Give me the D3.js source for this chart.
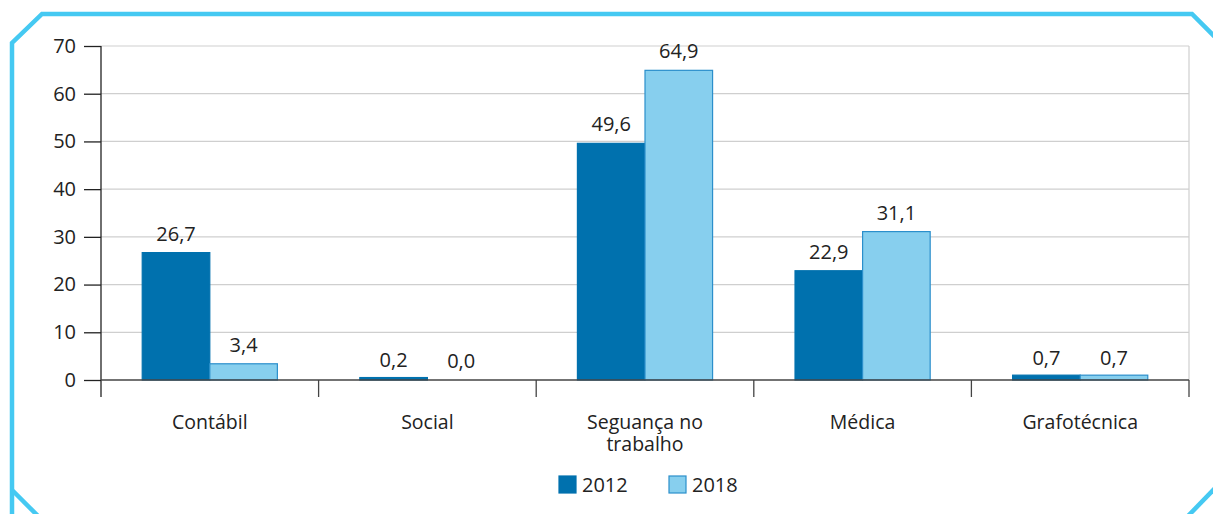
<!DOCTYPE html>
<html>
<head>
<meta charset="utf-8">
<script src="https://cdn.jsdelivr.net/npm/d3@7"></script>
<style>
  body { margin: 0; background: #fff; }
  svg { display: block; font-family: "Open Sans", sans-serif; }
</style>
</head>
<body>
<svg id="chart" width="1213" height="514"></svg>
<script>
// data
const categories = [["Contábil"], ["Social"], ["Seguança no", "trabalho"], ["Médica"], ["Grafotécnica"]];
const series = ["2012", "2018"];
const values2012 = [26.7, 0.2, 49.6, 22.9, 0.7];
const values2018 = [3.4, 0.0, 64.9, 31.1, 0.7];
const yTicks = [0, 10, 20, 30, 40, 50, 60, 70];

const colors = { "2012": "#0071ae", "2018": "#87cfee" };
const strokes = { "2012": "#0071ae", "2018": "#2b8fcb" };

const svg = d3.select('#chart');

// frame with cut corners
const frame = d3.path();
frame.moveTo(12, 514);
frame.lineTo(12, 43);
frame.lineTo(42, 14);
frame.lineTo(1192, 14);
frame.lineTo(1225, 47);
svg.append('path').attr('d', frame.toString())
  .attr('fill', 'none').attr('stroke', '#45c9f2').attr('stroke-width', 4.5);
svg.append('path').attr('d', 'M12,490 L38,516')
  .attr('fill', 'none').attr('stroke', '#45c9f2').attr('stroke-width', 4.5);
svg.append('path').attr('d', 'M1225,478 L1188,516')
  .attr('fill', 'none').attr('stroke', '#45c9f2').attr('stroke-width', 4.5);

const m = { left: 101, right: 1189, top: 46, bottom: 380 };

const x = d3.scaleBand()
  .domain(d3.range(categories.length))
  .range([m.left, m.right]);

const xs = d3.scaleBand()
  .domain(series)
  .range([0, x.bandwidth()])
  .paddingOuter(0.61)
  .paddingInner(0);

const y = d3.scaleLinear().domain([0, 70]).range([m.bottom, m.top]);

// gridlines
svg.append('g').selectAll('line').data(yTicks.filter(d => d > 0)).join('line')
  .attr('x1', m.left).attr('x2', m.right)
  .attr('y1', d => y(d)).attr('y2', d => y(d))
  .attr('stroke', '#cfcfcf').attr('stroke-width', 1.2);
svg.append('line')
  .attr('x1', m.right).attr('x2', m.right)
  .attr('y1', m.top).attr('y2', m.bottom)
  .attr('stroke', '#cfcfcf').attr('stroke-width', 1.2);

// bars
const rows = categories.map((c, i) => ({ i, v: { "2012": values2012[i], "2018": values2018[i] } }));
const groups = svg.append('g').selectAll('g').data(rows).join('g')
  .attr('transform', d => `translate(${x(d.i)},0)`);

// tiny values get a minimum visible height, zero gets none
const bump = v => (v > 0 && v < 1 ? 1.5 : 0);

groups.selectAll('rect').data(d => series.map(s => ({ s, v: d.v[s] })).filter(d => d.v > 0)).join('rect')
  .attr('x', d => xs(d.s))
  .attr('width', xs.bandwidth())
  .attr('y', d => y(d.v) - bump(d.v))
  .attr('height', d => y(0) - y(d.v) + bump(d.v))
  .attr('fill', d => colors[d.s])
  .attr('stroke', d => strokes[d.s])
  .attr('stroke-width', 1.2);

groups.selectAll('text').data(d => series.map(s => ({ s, v: d.v[s] }))).join('text')
  .attr('x', d => xs(d.s) + xs.bandwidth() / 2)
  .attr('y', d => y(d.v) - 12)
  .attr('text-anchor', 'middle')
  .attr('font-size', 20)
  .attr('fill', '#222')
  .text(d => d.v.toFixed(1).replace('.', ','));

// y axis
const yAxis = svg.append('g')
  .attr('transform', `translate(${m.left},0)`)
  .call(d3.axisLeft(y).tickValues(yTicks).tickSize(17).tickPadding(8));
yAxis.select('.domain').remove();
yAxis.selectAll('line').attr('stroke', '#222').attr('stroke-width', 1.3);
yAxis.selectAll('text').attr('font-size', 20).attr('fill', '#222')
  .attr('font-family', '"Open Sans", sans-serif');
svg.append('line')
  .attr('x1', m.left).attr('x2', m.left)
  .attr('y1', m.top).attr('y2', m.bottom + 17)
  .attr('stroke', '#222').attr('stroke-width', 1.3);

// x axis baseline and separators
svg.append('line')
  .attr('x1', m.left).attr('x2', m.right)
  .attr('y1', m.bottom).attr('y2', m.bottom)
  .attr('stroke', '#444').attr('stroke-width', 1.5);
svg.append('g').selectAll('line').data(d3.range(1, categories.length + 1)).join('line')
  .attr('x1', d => m.left + d * x.bandwidth()).attr('x2', d => m.left + d * x.bandwidth())
  .attr('y1', m.bottom).attr('y2', m.bottom + 17)
  .attr('stroke', '#444').attr('stroke-width', 1.3);

// category labels
const cl = svg.append('g').selectAll('text').data(categories).join('text')
  .attr('x', (d, i) => x(i) + x.bandwidth() / 2)
  .attr('y', 429)
  .attr('text-anchor', 'middle')
  .attr('font-size', 19.5)
  .attr('fill', '#222');
cl.selectAll('tspan').data(d => d).join('tspan')
  .attr('x', function () { return this.parentNode.getAttribute('x'); })
  .attr('dy', (d, i) => i === 0 ? 0 : 22)
  .text(d => d);

// legend
const legend = svg.append('g').selectAll('g').data(series).join('g')
  .attr('transform', (d, i) => `translate(${559 + i * 110},476)`);
legend.append('rect')
  .attr('width', 17).attr('height', 17)
  .attr('fill', d => colors[d])
  .attr('stroke', d => strokes[d]).attr('stroke-width', 1.2);
legend.append('text')
  .attr('x', 23).attr('y', 16)
  .attr('font-size', 20).attr('fill', '#222')
  .text(d => d);
</script>
</body>
</html>
